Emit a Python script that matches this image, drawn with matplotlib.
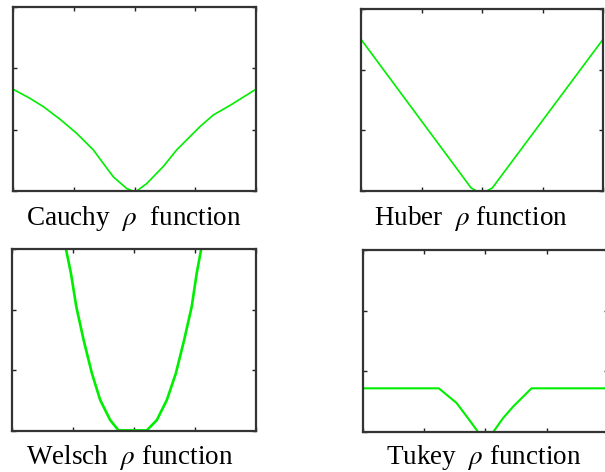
"""Four robust rho functions in a 2x2 grid -> out.png."""

import matplotlib
matplotlib.use("Agg")
import matplotlib.pyplot as plt

W, H = 605, 472

# curve samples (x in [-10, 10], y in [0, 3])
cauchy_x = [-10, -8.6, -7.5, -6.13, -4.76, -3.39, -2.57, -1.74, -0.64,
            -0.12, 0.18, 1.0, 2.37, 3.47, 5.39, 6.49, 7.9, 10]
cauchy_y = [1.66, 1.51, 1.375, 1.17, 0.94, 0.67, 0.45, 0.23, 0.04,
            0.0, 0.0, 0.12, 0.40, 0.67, 1.05, 1.24, 1.40, 1.66]

huber_x = [-10, -0.9, -0.44, 0.38, 0.85, 10]
huber_y = [2.50, 0.05, 0.0, 0.0, 0.05, 2.50]

welsch_x = [-5.68, -5.17, -4.73, -4.13, -3.45, -2.77, -1.95, -1.27,
            1.05, 1.87, 2.69, 3.43, 4.11, 4.73, 5.14, 5.60]
welsch_y = [3.10, 2.60, 2.05, 1.50, 0.95, 0.51, 0.18, 0.01,
            0.01, 0.18, 0.51, 0.95, 1.50, 2.05, 2.60, 3.10]

tukey_x = [-10, -3.81, -2.37, -1.55, -0.6, 0.63, 1.44, 2.26, 3.76, 10]
tukey_y = [0.72, 0.72, 0.48, 0.26, 0.0, 0.0, 0.23, 0.42, 0.72, 0.72]

LABELS = ["Cauchy  $\\rho$  function", "Huber  $\\rho$ function",
          "Welsch  $\\rho$ function", "Tukey  $\\rho$ function"]
XTICKS = [-10, -5, 0, 5, 10]
YTICKS = [0, 1, 2, 3]

# axes boxes in pixels: left, top, right, bottom
BOXES = [(13, 7, 256, 191), (361, 9, 603, 191),
         (12, 249, 256, 431), (363, 250, 608, 432)]
LW = [1.2, 1.2, 1.9, 1.5]
# label centre x and baseline y in pixels
LABEL_POS = [(134, 225), (471, 225), (130, 464), (484, 464)]

plt.rcParams["font.family"] = ["Liberation Serif", "DejaVu Serif"]
plt.rcParams["mathtext.fontset"] = "stix"

fig = plt.figure(figsize=(W / 100, H / 100), dpi=100)
data = [(cauchy_x, cauchy_y), (huber_x, huber_y),
        (welsch_x, welsch_y), (tukey_x, tukey_y)]

for (l, t, r, b), (xs, ys), lw, lab, (lx, ly) in zip(BOXES, data, LW,
                                                      LABELS, LABEL_POS):
    ax = fig.add_axes([l / W, 1 - b / H, (r - l) / W, (b - t) / H])
    ax.plot(xs, ys, color="#00ee00", lw=lw, solid_joinstyle="round")
    ax.set_xlim(-10, 10); ax.set_ylim(0, 3)
    ax.set_xticks(XTICKS); ax.set_yticks(YTICKS)
    ax.set_xticklabels([]); ax.set_yticklabels([])
    ax.tick_params(direction="in", length=3, width=1, color="#222222",
                   top=True, right=True)
    for s in ax.spines.values():
        s.set_linewidth(1.6); s.set_color("#333333")
    fig.text(lx / W, 1 - ly / H, lab, ha="center", va="baseline",
             fontsize=19.5)

fig.savefig("out.png", dpi=100)
